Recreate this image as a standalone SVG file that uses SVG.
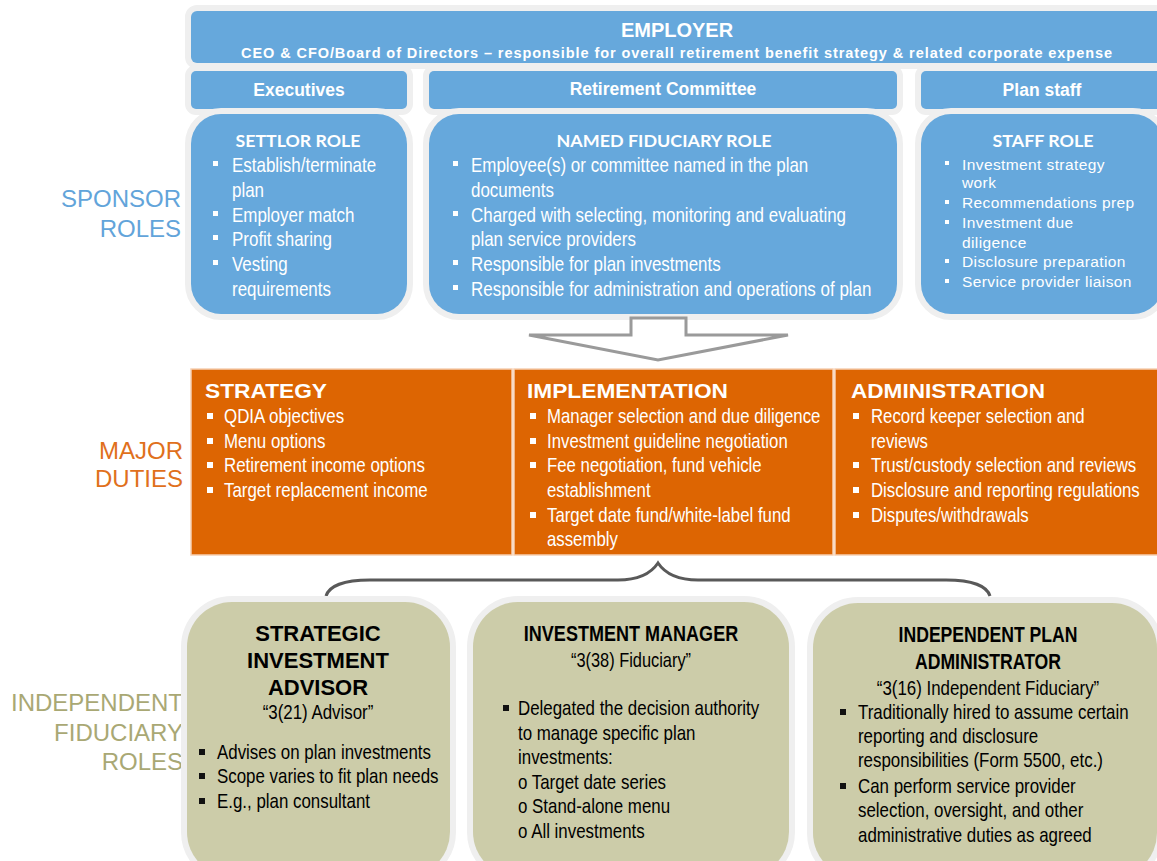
<svg xmlns="http://www.w3.org/2000/svg" width="1157" height="861" viewBox="0 0 1157 861">
  <style>
    .halo { stroke: #efefef; stroke-width: 12; paint-order: stroke fill; }
    .blue { fill: #66a8dc; }
    .orange { fill: #dd6502; stroke: #f6cfb2; stroke-width: 1.5; }
    .olive { fill: #cccca9; }
    .sans { font-family: "Liberation Sans", Arial, sans-serif; }
    .bold { font-family: "Liberation Sans", Arial, sans-serif; font-weight: bold; }
    .role { font-family: Lato, "Open Sans", sans-serif; font-weight: bold; font-size: 17px; fill: #ffffff; text-anchor: middle; }
    .nw { font-family: "Liberation Sans", Arial, sans-serif; font-size: 20px; }
    .nwb { font-family: "Liberation Sans", Arial, sans-serif; font-size: 22px; font-weight: bold; text-anchor: middle; fill: #000000; }
    .w { fill: #ffffff; }
    .k { fill: #000000; }
    .side { font-family: "Liberation Sans", Arial, sans-serif; font-size: 24px; text-anchor: end; }
    .bw { fill: #ffffff; }
    .bk { fill: #111111; }
    .conn { fill: none; stroke: #595959; stroke-width: 3; }
  </style>

  <rect width="1157" height="861" fill="#ffffff"/>

  <!-- side labels -->
  <g id="label-sponsor" class="side" fill="#62a4da">
    <text x="181" y="207">SPONSOR</text>
    <text x="181" y="237">ROLES</text>
  </g>
  <g id="label-duties" class="side" fill="#e0701c">
    <text x="183" y="459">MAJOR</text>
    <text x="183" y="487">DUTIES</text>
  </g>
  <g id="label-independent" class="side" fill="#a9a874">
    <text x="183" y="711">INDEPENDENT</text>
    <text x="183" y="741">FIDUCIARY</text>
    <text x="183" y="770">ROLES</text>
  </g>

  <!-- employer banner -->
  <g id="employer">
    <rect class="blue halo" x="191" y="11" width="972" height="52" rx="6"/>
    <text class="bold w" x="677" y="37" font-size="20" text-anchor="middle">EMPLOYER</text>
    <text class="bold w" x="241" y="58" font-size="14.5" textLength="871" lengthAdjust="spacing">CEO &amp; CFO/Board of Directors – responsible for overall retirement benefit strategy &amp; related corporate expense</text>
  </g>

  <!-- sponsor groups -->
  <g id="executives">
    <rect class="blue halo" x="191" y="71" width="216" height="38" rx="5"/>
    <text class="bold w" x="299" y="96" font-size="17.5" text-anchor="middle">Executives</text>
  </g>
  <g id="retirement-committee">
    <rect class="blue halo" x="429" y="71" width="468" height="38" rx="5"/>
    <text class="bold w" x="663" y="95" font-size="17.5" text-anchor="middle">Retirement Committee</text>
  </g>
  <g id="plan-staff">
    <rect class="blue halo" x="921" y="71" width="242" height="38" rx="5"/>
    <text class="bold w" x="1042" y="96" font-size="17.5" text-anchor="middle">Plan staff</text>
  </g>

  <!-- settlor role -->
  <g id="settlor-role">
    <rect class="blue halo" x="191" y="114" width="216" height="200" rx="30"/>
    <text class="role" x="298" y="147" textLength="125" lengthAdjust="spacingAndGlyphs">SETTLOR ROLE</text>
    <g class="bw">
      <rect x="213" y="161" width="5" height="5"/>
      <rect x="213" y="211" width="5" height="5"/>
      <rect x="213" y="235" width="5" height="5"/>
      <rect x="213" y="260" width="5" height="5"/>
    </g>
    <g transform="translate(232,0) scale(0.848,1)">
      <text class="nw w">
        <tspan x="0" y="172">Establish/terminate</tspan>
        <tspan x="0" y="197">plan</tspan>
        <tspan x="0" y="222">Employer match</tspan>
        <tspan x="0" y="246">Profit sharing</tspan>
        <tspan x="0" y="271">Vesting</tspan>
        <tspan x="0" y="296">requirements</tspan>
      </text>
    </g>
  </g>

  <!-- named fiduciary role -->
  <g id="named-fiduciary-role">
    <rect class="blue halo" x="429" y="114" width="468" height="200" rx="30"/>
    <text class="role" x="664" y="147" textLength="215" lengthAdjust="spacingAndGlyphs">NAMED FIDUCIARY ROLE</text>
    <g class="bw">
      <rect x="453" y="161" width="5" height="5"/>
      <rect x="453" y="211" width="5" height="5"/>
      <rect x="453" y="260" width="5" height="5"/>
      <rect x="453" y="285" width="5" height="5"/>
    </g>
    <g transform="translate(471,0) scale(0.848,1)">
      <text class="nw w">
        <tspan x="0" y="172">Employee(s) or committee named in the plan</tspan>
        <tspan x="0" y="197">documents</tspan>
        <tspan x="0" y="222">Charged with selecting, monitoring and evaluating</tspan>
        <tspan x="0" y="246">plan service providers</tspan>
        <tspan x="0" y="271">Responsible for plan investments</tspan>
        <tspan x="0" y="296">Responsible for administration and operations of plan</tspan>
      </text>
    </g>
  </g>

  <!-- staff role -->
  <g id="staff-role">
    <rect class="blue halo" x="921" y="114" width="242" height="200" rx="30"/>
    <text class="role" x="1043" y="147" textLength="101" lengthAdjust="spacingAndGlyphs">STAFF ROLE</text>
    <g class="bw">
      <rect x="945" y="161" width="4" height="4"/>
      <rect x="945" y="200" width="4" height="4"/>
      <rect x="945" y="220" width="4" height="4"/>
      <rect x="945" y="259" width="4" height="4"/>
      <rect x="945" y="279" width="4" height="4"/>
    </g>
    <text class="sans w" font-size="15.5" letter-spacing="0.4">
      <tspan x="962" y="170">Investment strategy</tspan>
      <tspan x="962" y="188">work</tspan>
      <tspan x="962" y="208">Recommendations prep</tspan>
      <tspan x="962" y="228">Investment due</tspan>
      <tspan x="962" y="248">diligence</tspan>
      <tspan x="962" y="267">Disclosure preparation</tspan>
      <tspan x="962" y="287">Service provider liaison</tspan>
    </text>
  </g>

  <!-- connectors -->
  <g id="connectors">
    <polygon points="631,318 686,318 686,335 788,335 658,360 529,335 631,335" fill="#ffffff" stroke="#9a9a9a" stroke-width="3" stroke-linejoin="miter"/>
    <path class="conn" d="M326,596 C329,586 344,580 370,580 L618,580 C640,580 652,572 658,563 C664,572 676,580 698,580 L946,580 C972,580 987,586 990,596"/>
  </g>

  <!-- major duties -->
  <g id="strategy">
    <rect class="orange" x="191" y="369" width="321" height="186"/>
    <text class="bold w" x="205" y="398" font-size="21" textLength="122" lengthAdjust="spacingAndGlyphs">STRATEGY</text>
    <g class="bw">
      <rect x="207" y="413" width="6" height="6"/>
      <rect x="207" y="438" width="6" height="6"/>
      <rect x="207" y="462" width="6" height="6"/>
      <rect x="207" y="487" width="6" height="6"/>
    </g>
    <g transform="translate(224,0) scale(0.845,1)">
      <text class="nw w">
        <tspan x="0" y="423">QDIA objectives</tspan>
        <tspan x="0" y="448">Menu options</tspan>
        <tspan x="0" y="472">Retirement income options</tspan>
        <tspan x="0" y="497">Target replacement income</tspan>
      </text>
    </g>
  </g>
  <g id="implementation">
    <rect class="orange" x="514" y="369" width="319" height="186"/>
    <text class="bold w" x="527" y="398" font-size="21" textLength="201" lengthAdjust="spacingAndGlyphs">IMPLEMENTATION</text>
    <g class="bw">
      <rect x="530" y="413" width="6" height="6"/>
      <rect x="530" y="438" width="6" height="6"/>
      <rect x="530" y="462" width="6" height="6"/>
      <rect x="530" y="512" width="6" height="6"/>
    </g>
    <g transform="translate(547,0) scale(0.84,1)">
      <text class="nw w">
        <tspan x="0" y="423">Manager selection and due diligence</tspan>
        <tspan x="0" y="448">Investment guideline negotiation</tspan>
        <tspan x="0" y="472">Fee negotiation, fund vehicle</tspan>
        <tspan x="0" y="497">establishment</tspan>
        <tspan x="0" y="522">Target date fund/white-label fund</tspan>
        <tspan x="0" y="546">assembly</tspan>
      </text>
    </g>
  </g>
  <g id="administration">
    <rect class="orange" x="835" y="369" width="323" height="186"/>
    <text class="bold w" x="851" y="398" font-size="21" textLength="194" lengthAdjust="spacingAndGlyphs">ADMINISTRATION</text>
    <g class="bw">
      <rect x="853" y="413" width="6" height="6"/>
      <rect x="853" y="462" width="6" height="6"/>
      <rect x="853" y="487" width="6" height="6"/>
      <rect x="853" y="512" width="6" height="6"/>
    </g>
    <g transform="translate(871,0) scale(0.84,1)">
      <text class="nw w">
        <tspan x="0" y="423">Record keeper selection and</tspan>
        <tspan x="0" y="448">reviews</tspan>
        <tspan x="0" y="472">Trust/custody selection and reviews</tspan>
        <tspan x="0" y="497">Disclosure and reporting regulations</tspan>
        <tspan x="0" y="522">Disputes/withdrawals</tspan>
      </text>
    </g>
  </g>

  <!-- independent fiduciary roles -->
  <g id="strategic-investment-advisor">
    <rect class="olive halo" x="187" y="602" width="263" height="275" rx="45"/>
    <g class="bold k" font-size="22" text-anchor="middle">
      <text x="318" y="641">STRATEGIC</text>
      <text x="318" y="668">INVESTMENT</text>
      <text x="318" y="695">ADVISOR</text>
    </g>
    <g transform="translate(318,0) scale(0.845,1)">
      <text class="nw k" x="0" y="719" text-anchor="middle">“3(21) Advisor”</text>
    </g>
    <g class="bk">
      <rect x="199" y="749" width="6" height="6"/>
      <rect x="199" y="773" width="6" height="6"/>
      <rect x="199" y="798" width="6" height="6"/>
    </g>
    <g transform="translate(217,0) scale(0.845,1)">
      <text class="nw k">
        <tspan x="0" y="759">Advises on plan investments</tspan>
        <tspan x="0" y="783">Scope varies to fit plan needs</tspan>
        <tspan x="0" y="808">E.g., plan consultant</tspan>
      </text>
    </g>
  </g>

  <g id="investment-manager">
    <rect class="olive halo" x="473" y="602" width="316" height="275" rx="45"/>
    <g transform="translate(631,0) scale(0.82,1)">
      <text class="nwb" x="0" y="641">INVESTMENT MANAGER</text>
      <text class="nw k" x="0" y="667" text-anchor="middle">“3(38) Fiduciary”</text>
    </g>
    <rect class="bk" x="503" y="705" width="6" height="6"/>
    <g transform="translate(518,0) scale(0.845,1)">
      <text class="nw k">
        <tspan x="0" y="715">Delegated the decision authority</tspan>
        <tspan x="0" y="740">to manage specific plan</tspan>
        <tspan x="0" y="764">investments:</tspan>
        <tspan x="0" y="789">o Target date series</tspan>
        <tspan x="0" y="813">o Stand-alone menu</tspan>
        <tspan x="0" y="838">o All investments</tspan>
      </text>
    </g>
  </g>

  <g id="independent-plan-administrator">
    <rect class="olive halo" x="813" y="603" width="344" height="275" rx="45"/>
    <g transform="translate(988,0) scale(0.8,1)">
      <text class="nwb" x="0" y="642">INDEPENDENT PLAN</text>
      <text class="nwb" x="0" y="669">ADMINISTRATOR</text>
    </g>
    <g transform="translate(988,0) scale(0.845,1)">
      <text class="nw k" x="0" y="695" text-anchor="middle">“3(16) Independent Fiduciary”</text>
    </g>
    <g class="bk">
      <rect x="840" y="709" width="6" height="6"/>
      <rect x="840" y="783" width="6" height="6"/>
    </g>
    <g transform="translate(858,0) scale(0.845,1)">
      <text class="nw k">
        <tspan x="0" y="719">Traditionally hired to assume certain</tspan>
        <tspan x="0" y="743">reporting and disclosure</tspan>
        <tspan x="0" y="767">responsibilities (Form 5500, etc.)</tspan>
        <tspan x="0" y="793">Can perform service provider</tspan>
        <tspan x="0" y="817">selection, oversight, and other</tspan>
        <tspan x="0" y="842">administrative duties as agreed</tspan>
      </text>
    </g>
  </g>
</svg>
